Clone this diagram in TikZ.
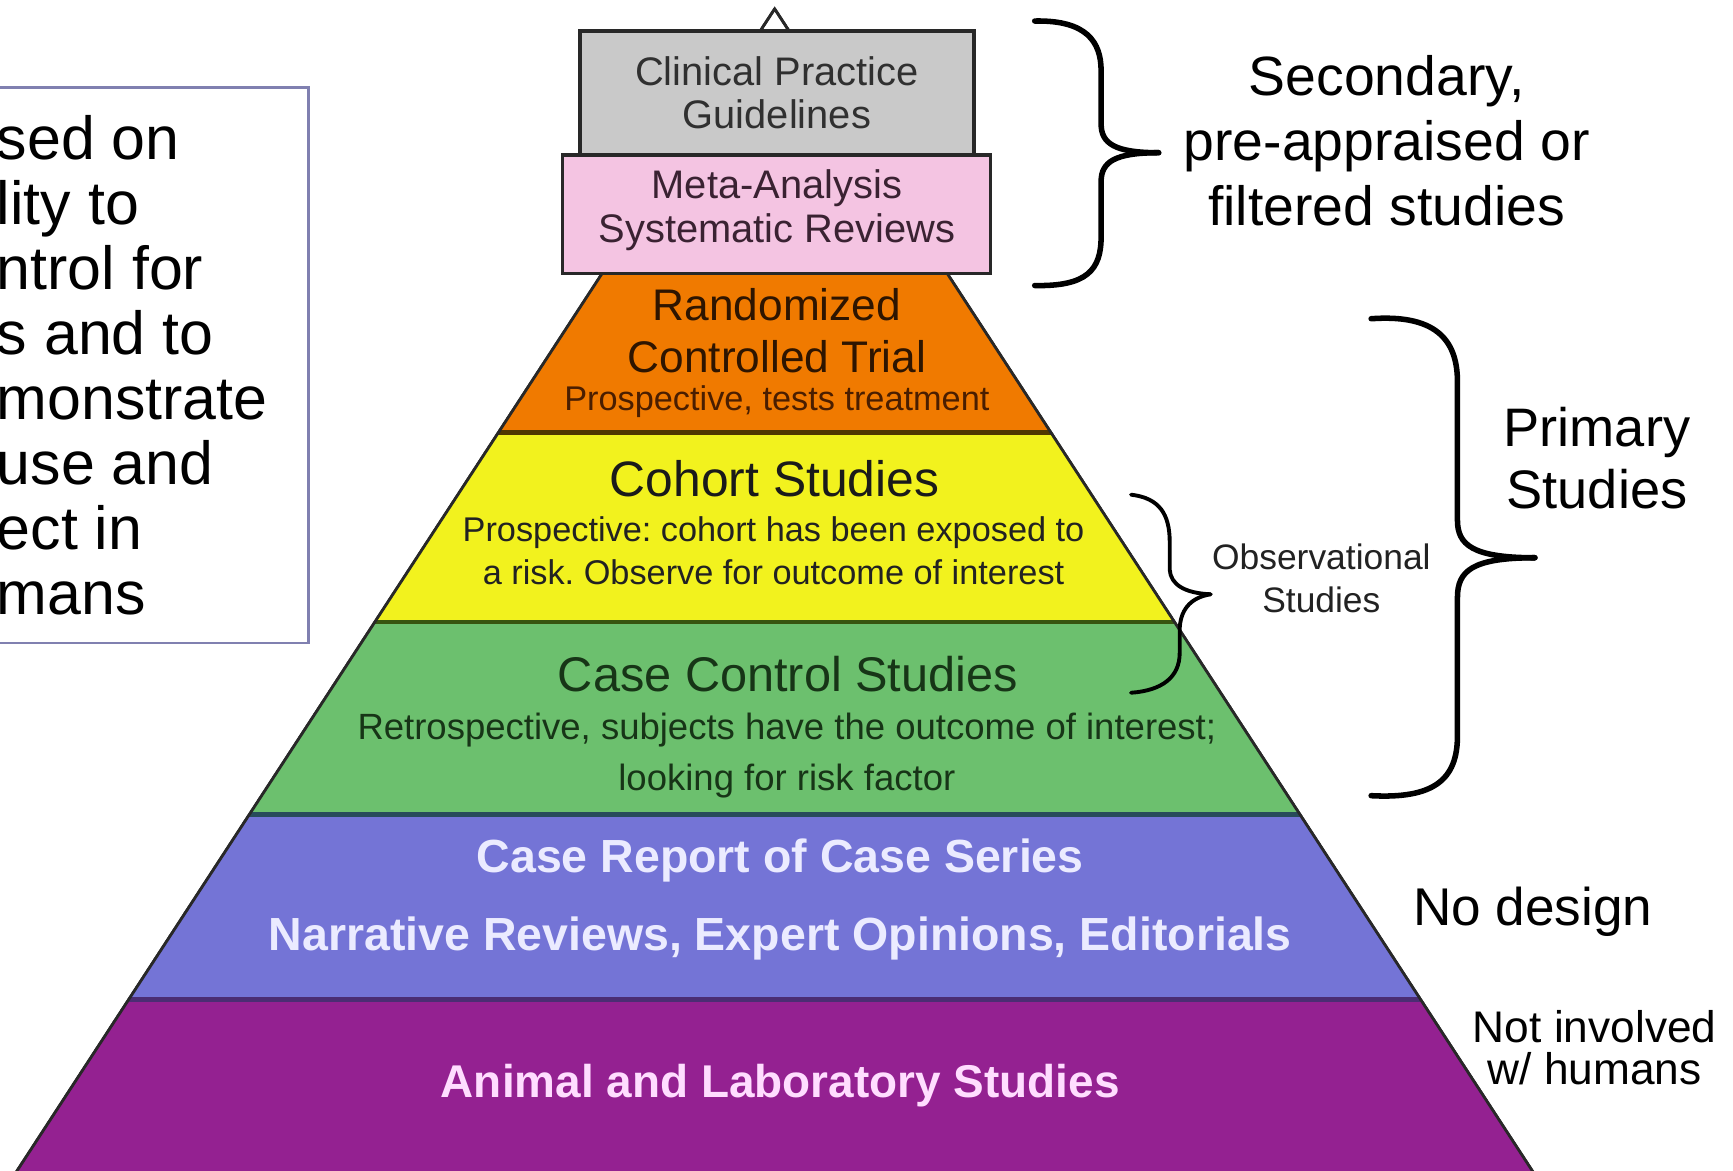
\documentclass[tikz,border=0pt]{standalone}
\usepackage{fontspec}
\setmainfont{Liberation Sans}
\frenchspacing
\definecolor{cOrange}{RGB}{240,122,0}
\definecolor{cYellow}{RGB}{242,242,30}
\definecolor{cGreen}{RGB}{108,192,110}
\definecolor{cBlue}{RGB}{116,116,214}
\definecolor{cPurple}{RGB}{148,33,145}
\definecolor{cGray}{RGB}{201,201,201}
\definecolor{cPink}{RGB}{244,196,226}
\definecolor{lOY}{RGB}{80,55,0}
\definecolor{lYG}{RGB}{55,85,15}
\definecolor{lGB}{RGB}{40,75,90}
\definecolor{lBP}{RGB}{75,45,115}
\definecolor{cFrame}{RGB}{128,128,176}
\definecolor{cEdge}{RGB}{40,40,40}
\definecolor{tBrown}{RGB}{46,21,0}
\definecolor{tBrownS}{RGB}{74,30,0}
\definecolor{tGreen}{RGB}{23,53,23}
\definecolor{tLav}{RGB}{235,235,255}
\definecolor{tPinkW}{RGB}{255,221,255}
\definecolor{tMeta}{RGB}{58,34,50}
\begin{document}
\begin{tikzpicture}[x=1pt,y=-1pt,
  lab/.style={inner sep=0pt, align=center},
  fs/.style n args={2}{font=\fontsize{#1}{#2}\selectfont},
  fsb/.style n args={2}{font=\fontsize{#1}{#2}\selectfont\bfseries},
  sep/.style={line width=4pt},
  bracestroke/.style={line width=5pt, line cap=round, black},
  smallbrace/.style={line width=3.5pt, line cap=round, black},
  boxframe/.style={draw=cEdge, line width=3pt, inner sep=0pt, minimum width=#1}
]
\useasboundingbox (0,0) rectangle (1566,1058);
\fill[white] (0,0) rectangle (1566,1058);
\begin{scope}
\clip (0,0) rectangle (1566,1058);
% left frame
\draw[cFrame, line width=2.5pt, fill=white] (-20,79) rectangle (279,581);
\node[anchor=west, align=left, inner sep=0pt, fs={55}{58.7}] (lefttext) at (-3,330)
  {sed on\\lity to\\ntrol for\\s and to\\monstrate\\use and\\ect in\\mans};
% pyramid
\coordinate (apex) at (700,8);
\coordinate (bl) at (4.3,1075);
\coordinate (br) at (1395.7,1075);
\draw[fill=white, draw=cEdge, line width=2.5pt] (apex) -- (bl) -- (br) -- cycle;
\fill[cOrange] (548.7,240) -- (851.3,240) -- (949.7,391) -- (450.3,391) -- cycle;
\fill[cYellow] (450.3,391) -- (949.7,391) -- (1061.2,562) -- (338.8,562) -- cycle;
\fill[cGreen] (338.8,562) -- (1061.2,562) -- (1174.7,736) -- (225.3,736) -- cycle;
\fill[cBlue] (225.3,736) -- (1174.7,736) -- (1283.5,903) -- (116.5,903) -- cycle;
\fill[cPurple] (116.5,903) -- (1283.5,903) -- (br) -- (bl) -- cycle;
\draw[lOY, sep] (450.3,391) -- (949.7,391);
\draw[lYG, sep] (338.8,562) -- (1061.2,562);
\draw[lGB, sep] (225.3,736) -- (1174.7,736);
\draw[lBP, sep] (116.5,903) -- (1283.5,903);
\draw[cEdge, line width=2.5pt] (apex) -- (bl);
\draw[cEdge, line width=2.5pt] (apex) -- (br);
\end{scope}
% top boxes
\node[boxframe=356, fill=cGray, minimum height=112] (cpgbox) at (702,84) {};
\node[boxframe=387, fill=cPink, minimum height=107] (metabox) at (701.5,193.5) {};
\node[lab, fs={36}{38.5}, text={rgb,255:red,48;green,48;blue,48}] (cpg) at (cpgbox.center) {Clinical Practice\\Guidelines};
\node[lab, fs={36}{39}, text=tMeta] (meta) at (702,190) {Meta-Analysis\\Systematic Reviews};
% pyramid texts
\node[lab, fs={40}{47}, text=tBrown] (rct) at (702,298.5) {Randomized\\Controlled Trial};
\node[lab, fs={31}{36}, text=tBrownS] (rctsub) at (702,363) {Prospective, tests treatment};
\node[lab, fs={45}{50}, text={rgb,255:red,26;green,26;blue,26}] (cohort) at (700,433) {Cohort Studies};
\node[lab, fs={31}{39}, text={rgb,255:red,34;green,34;blue,34}] (cohortsub) at (699,497.5) {Prospective: cohort has been exposed to\\a risk. Observe for outcome of interest};
\node[lab, fs={44}{50}, text=tGreen] (cc) at (712,609) {Case Control Studies};
\node[lab, fs={33}{46}, text=tGreen] (ccsub) at (711,683) {Retrospective, subjects have the outcome of interest;\\looking for risk factor};
\node[lab, fsb={42}{48}, text=tLav] (caserep) at (705,778) {Case Report of Case Series};
\node[lab, fsb={42}{48}, text=tLav] (narr) at (705,848) {Narrative Reviews, Expert Opinions, Editorials};
\node[lab, fsb={41.5}{48}, text=tPinkW] (animal) at (705,981) {Animal and Laboratory Studies};
% braces
\draw[bracestroke] (935,19) .. controls (982,18) and (995,38) .. (995,64) -- (995,112) .. controls (995,130) and (1008,138) .. (1047,138);
\draw[bracestroke] (1047,138) .. controls (1008,138) and (995,146) .. (995,164) -- (995,214) .. controls (995,244) and (982,259) .. (935,258);
\draw[bracestroke] (1239,288) .. controls (1295,284) and (1317,305) .. (1317,345) -- (1317,470) .. controls (1317,492) and (1330,504) .. (1387,504);
\draw[bracestroke] (1387,504) .. controls (1330,504) and (1317,516) .. (1317,540) -- (1317,665) .. controls (1317,705) and (1295,722) .. (1239,719);
\draw[smallbrace] (1022,447) .. controls (1048,450) and (1057,465) .. (1057,490) -- (1057,515) .. controls (1058,528) and (1070,536) .. (1094,537);
\draw[smallbrace] (1094,537) .. controls (1075,540) and (1066,552) .. (1066,570) -- (1066,590) .. controls (1066,612) and (1050,624) .. (1022,626);
% right labels
\node[lab, fs={50}{59}] (secondary) at (1253,127) {Secondary,\\pre-appraised or\\filtered studies};
\node[lab, fs={49}{56}] (primary) at (1443,414) {Primary\\Studies};
\node[lab, fs={32}{39}, text={rgb,255:red,34;green,34;blue,34}] (observ) at (1194,522.5) {Observational\\Studies};
\node[lab, fs={48}{54}] (nodesign) at (1385,824) {No design};
\node[lab, fs={40}{38}] (notinv) at (1441,947) {Not involved\\w/ humans};
\end{tikzpicture}
\end{document}
